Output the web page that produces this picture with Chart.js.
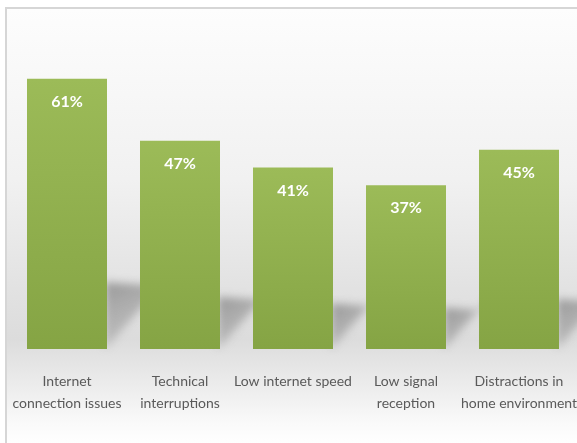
<!DOCTYPE html>
<html>
<head>
<meta charset="utf-8">
<script src="https://cdn.jsdelivr.net/npm/chart.js@4.4.0/dist/chart.umd.min.js"></script>
<style>
  html, body { margin: 0; padding: 0; background: #fff; }
  body { width: 577px; height: 443px; position: relative; overflow: hidden; }
  #frame {
    position: absolute; left: 5px; top: 7px; width: 620px; height: 470px;
    border-left: 2px solid #d6d6d6; border-top: 2px solid #d6d6d6;
    background: linear-gradient(to bottom,
      #fdfdfd 0px, #f1f1f1 170px, #e2e2e2 280px, #dcdcdc 330px,
      #e3e3e3 350px, #efefef 385px, #fafafa 415px, #ffffff 436px);
  }
  #chart { position: absolute; left: 0; top: 0; }
</style>
</head>
<body>
<div id="frame"></div>
<canvas id="chart" width="577" height="443"></canvas>
<script>
// survey: problems faced during online classes (% of respondents)
const categories = [
  ['Internet', 'connection issues'],
  ['Technical', 'interruptions'],
  'Low internet speed',
  ['Low signal', 'reception'],
  ['Distractions in', 'home environment']
];
const shares = [61, 47, 41, 37, 45];
const yMax = 70;

// soft grey cast shadow falling to the right of every bar
const barShadows = {
  id: 'barShadows',
  beforeDatasetsDraw(chart) {
    const ctx = chart.ctx;
    const meta = chart.getDatasetMeta(0);
    ctx.save();
    ctx.filter = 'blur(4px)';
    meta.data.forEach(bar => {
      const r = bar.x + bar.width / 2;
      const b = bar.base;
      const h = (b - bar.y) * 0.24 + 2;
      const g = ctx.createLinearGradient(r, b - h, r + 30, b);
      g.addColorStop(0, 'rgba(135,135,135,0.8)');
      g.addColorStop(1, 'rgba(160,160,160,0.4)');
      ctx.fillStyle = g;
      ctx.beginPath();
      ctx.moveTo(r - 2, b);
      ctx.lineTo(r - 2, b - h);
      ctx.lineTo(r + 60, b - h + 4);
      ctx.lineTo(r + 60, b - 70);
      ctx.closePath();
      ctx.fill();
    });
    ctx.restore();
  }
};

// white percentage inside the top of every bar
const valueLabels = {
  id: 'valueLabels',
  afterDatasetsDraw(chart) {
    const ctx = chart.ctx;
    const meta = chart.getDatasetMeta(0);
    ctx.save();
    ctx.fillStyle = '#ffffff';
    ctx.font = 'bold 16px Lato, "Open Sans", sans-serif';
    ctx.textAlign = 'center';
    ctx.textBaseline = 'middle';
    meta.data.forEach((bar, i) => {
      ctx.fillText(shares[i] + '%', bar.x, bar.y + 23);
    });
    ctx.restore();
  }
};

new Chart(document.getElementById('chart'), {
  type: 'bar',
  data: {
    labels: categories,
    datasets: [{
      data: shares,
      backgroundColor: (c) => {
        const chart = c.chart;
        if (!chart.chartArea || c.dataIndex === undefined) return '#93b251';
        const top = chart.scales.y.getPixelForValue(shares[c.dataIndex]);
        const bottom = chart.scales.y.getPixelForValue(0);
        const g = chart.ctx.createLinearGradient(0, top, 0, bottom);
        g.addColorStop(0, '#9cbb58');
        g.addColorStop(1, '#85a444');
        return g;
      },
      borderWidth: 0,
      categoryPercentage: 1,
      barPercentage: 0.708
    }]
  },
  options: {
    responsive: false,
    animation: false,
    events: [],
    layout: { padding: { left: 10.5, right: 1.5, top: 39, bottom: 0 } },
    plugins: {
      legend: { display: false },
      tooltip: { enabled: false }
    },
    scales: {
      x: {
        grid: { display: false },
        border: { display: false },
        ticks: {
          color: '#5a5a5a',
          padding: 13,
          maxRotation: 0,
          autoSkip: false,
          font: { family: 'Lato, "Open Sans", sans-serif', size: 14, lineHeight: '22px' }
        },
        afterFit: (s) => {
          // long edge labels may overhang the plot instead of squeezing it
          s.height = 94;
          s.paddingLeft = 0;
          s.paddingRight = 0;
        }
      },
      y: {
        display: false,
        min: 0,
        max: yMax
      }
    }
  },
  plugins: [barShadows, valueLabels]
});
</script>
</body>
</html>
